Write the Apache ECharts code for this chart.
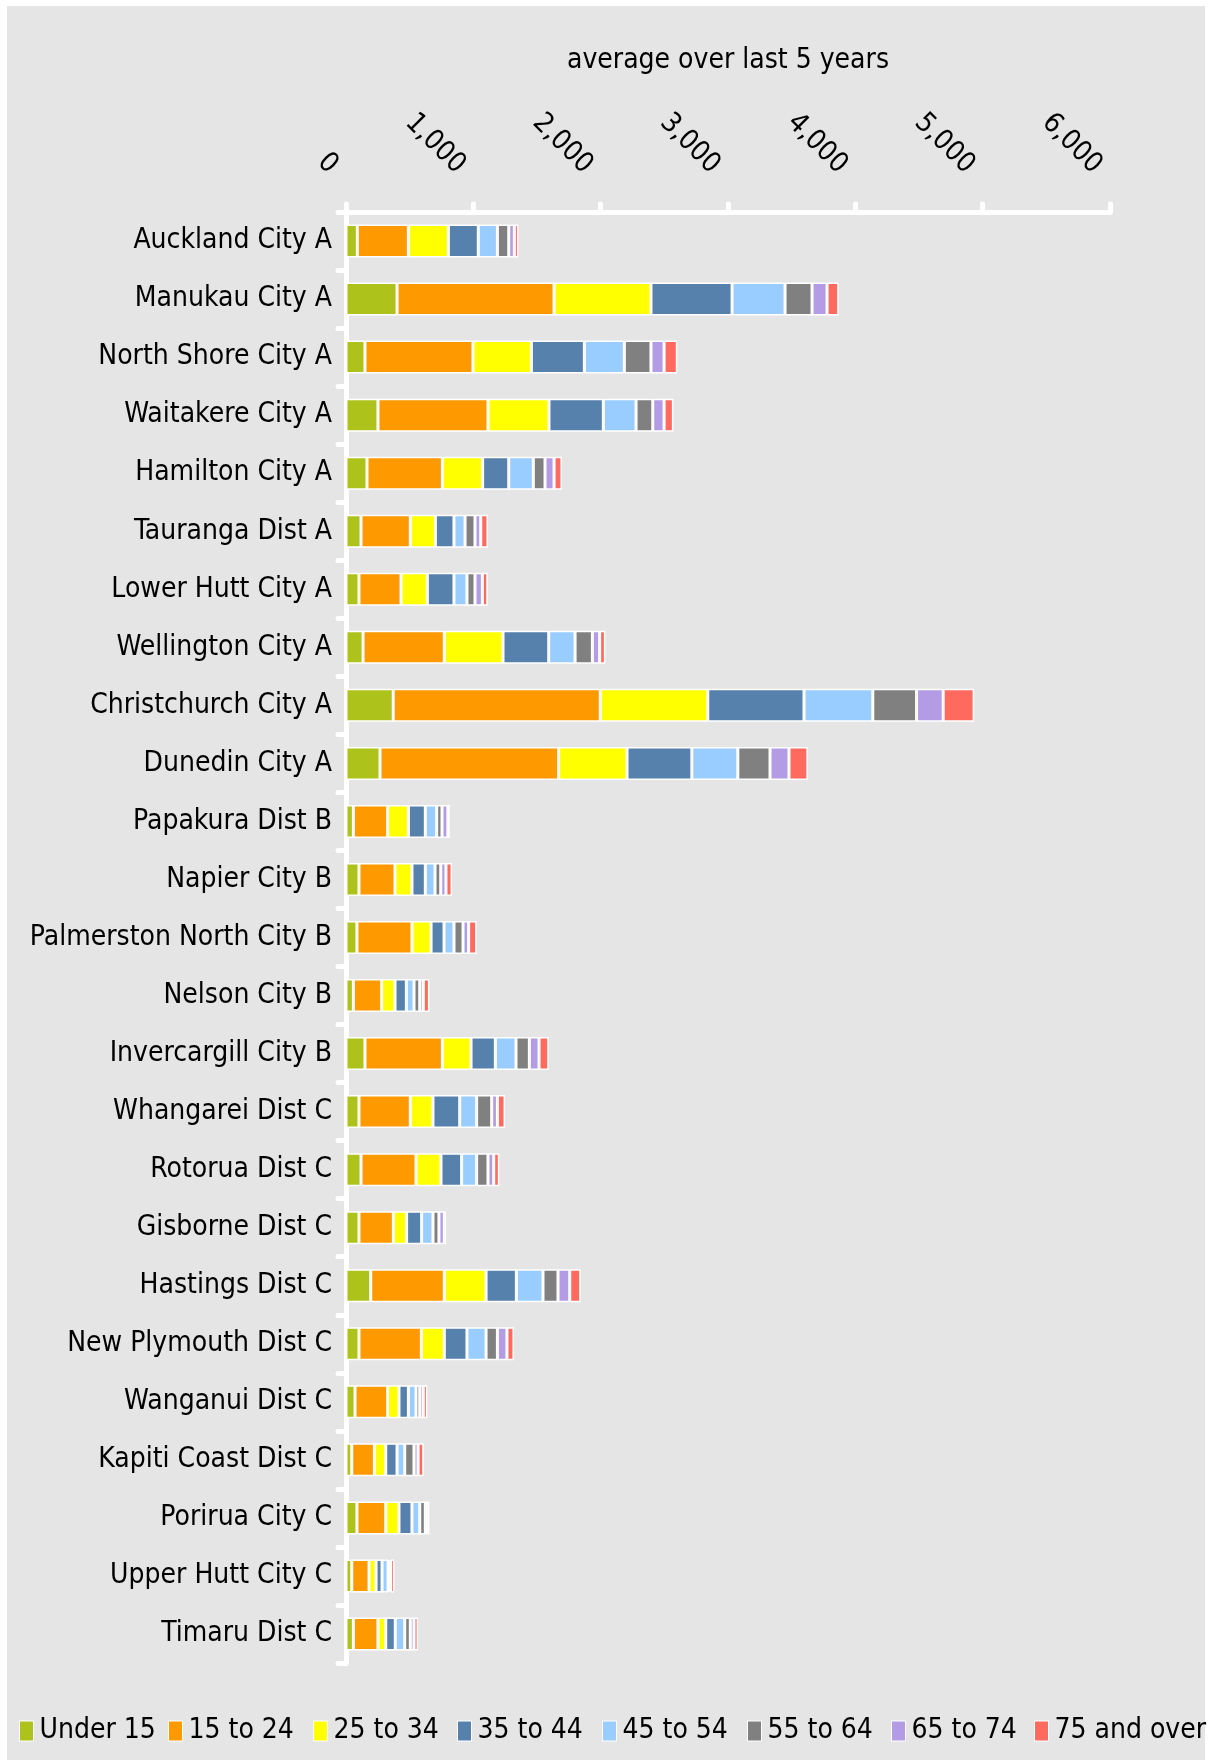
<!DOCTYPE html>
<html>
<head>
<meta charset="utf-8">
<title>average over last 5 years</title>
<script src="https://cdn.jsdelivr.net/npm/echarts@6.0.0/dist/echarts.min.js"></script>
<style>
  html, body { margin: 0; padding: 0; background: #fff; }
  .panel { position: absolute; left: 7px; top: 6px; width: 1198px; height: 1754px; background: #e5e5e5; }
  #chart { position: absolute; left: 0; top: 0; width: 1211px; height: 1760px; }
</style>
</head>
<body>
<div class="panel"></div>
<div id="chart"></div>
<script>
const categories = [
  'Auckland City A', 'Manukau City A', 'North Shore City A', 'Waitakere City A',
  'Hamilton City A', 'Tauranga Dist A', 'Lower Hutt City A', 'Wellington City A',
  'Christchurch City A', 'Dunedin City A', 'Papakura Dist B', 'Napier City B',
  'Palmerston North City B', 'Nelson City B', 'Invercargill City B', 'Whangarei Dist C',
  'Rotorua Dist C', 'Gisborne Dist C', 'Hastings Dist C', 'New Plymouth Dist C',
  'Wanganui Dist C', 'Kapiti Coast Dist C', 'Porirua City C', 'Upper Hutt City C',
  'Timaru Dist C'
]

const ageGroups = ['Under 15', '15 to 24', '25 to 34', '35 to 44', '45 to 54', '55 to 64', '65 to 74', '75 and over']

const under15 = [89, 401, 149, 251, 165, 118, 102, 134, 371, 267, 58, 102, 86, 58, 149, 102, 118, 102, 194, 102, 71, 45, 86, 45, 58]
const age15to24 = [401, 1233, 848, 864, 592, 387, 330, 638, 1626, 1403, 269, 283, 432, 222, 608, 403, 432, 270, 578, 490, 256, 178, 226, 136, 193]
const age25to34 = [314, 761, 459, 479, 316, 197, 207, 461, 844, 537, 163, 133, 150, 105, 225, 178, 196, 104, 328, 180, 89, 89, 104, 55, 61]
const age35to44 = [235, 637, 416, 427, 205, 146, 209, 359, 756, 509, 133, 105, 102, 89, 191, 210, 162, 118, 238, 178, 74, 89, 102, 47, 75]
const age45to54 = [150, 416, 314, 257, 193, 87, 102, 207, 540, 361, 89, 76, 78, 60, 162, 133, 118, 89, 209, 150, 60, 60, 61, 47, 74]
const age55to64 = [89, 212, 209, 131, 92, 78, 63, 136, 344, 253, 42, 45, 71, 45, 105, 118, 89, 47, 118, 89, 29, 73, 44, 10, 44]
const age65to74 = [44, 118, 103, 89, 71, 45, 58, 57, 209, 149, 46, 41, 44, 28, 76, 45, 45, 42, 92, 75, 28, 32, 16, 10, 29]
const age75plus = [32, 91, 104, 73, 62, 57, 42, 45, 243, 148, 15, 48, 63, 48, 76, 60, 44, 13, 86, 55, 32, 44, 16, 30, 32]

const seriesValues = [under15, age15to24, age25to34, age35to44, age45to54, age55to64, age65to74, age75plus]
const colors = ['#adc31b', '#ff9900', '#ffff00', '#5781ad', '#99ccff', '#808080', '#b39ce5', '#ff6a5f']

const xTicks = { min: 0, max: 6000, interval: 1000 }

const fontFamily = "'DejaVu Sans Condensed', 'DejaVu Sans', sans-serif"

// legend item x positions (one legend per item so spacing matches)
const legendLeft = [19, 168, 313, 457, 602, 747, 891, 1034]

const chart = echarts.init(document.getElementById('chart'), null, { renderer: 'canvas' })

const option = {
  animation: false,
  textStyle: { fontFamily: fontFamily },
  grid: {
    left: 346,
    right: 101,
    top: 212,
    bottom: 97,
    containLabel: false
  },
  legend: ageGroups.map((name, i) => ({
    data: [name],
    left: legendLeft[i],
    top: 1717,
    padding: 0,
    icon: 'rect',
    itemWidth: 14,
    itemHeight: 20,
    selectedMode: false,
    itemStyle: { borderColor: '#fff', borderWidth: 1 },
    textStyle: { fontSize: 28, color: '#000', fontFamily: fontFamily, padding: [0, 0, 0, 1] }
  })),
  xAxis: {
    type: 'value',
    position: 'top',
    min: xTicks.min,
    max: xTicks.max,
    interval: xTicks.interval,
    name: 'average over last 5 years',
    nameLocation: 'middle',
    nameGap: 137,
    nameTextStyle: { fontSize: 28, color: '#000', fontFamily: fontFamily },
    axisLine: { show: true, lineStyle: { color: '#fff', width: 5, cap: 'round' } },
    axisTick: { show: true, length: 8, lineStyle: { color: '#fff', width: 5, cap: 'round' } },
    splitLine: { show: false },
    axisLabel: {
      rotate: 45,
      margin: 30,
      padding: [0, 18, 0, 0],
      fontSize: 28,
      color: '#000',
      fontFamily: fontFamily,
      formatter: v => v.toLocaleString('en-US')
    }
  },
  yAxis: {
    type: 'category',
    inverse: true,
    data: categories,
    axisLine: { show: true, lineStyle: { color: '#fff', width: 5, cap: 'round' } },
    axisTick: { show: true, length: 8, lineStyle: { color: '#fff', width: 5, cap: 'round' } },
    axisLabel: { fontSize: 28, color: '#000', margin: 14, fontFamily: fontFamily }
  },
  series: ageGroups.map((name, i) => ({
    name: name,
    type: 'bar',
    stack: 'total',
    barWidth: 33,
    data: seriesValues[i],
    itemStyle: { color: colors[i], borderColor: '#fff', borderWidth: 1.5 }
  }))
}

chart.setOption(option)
</script>
</body>
</html>
